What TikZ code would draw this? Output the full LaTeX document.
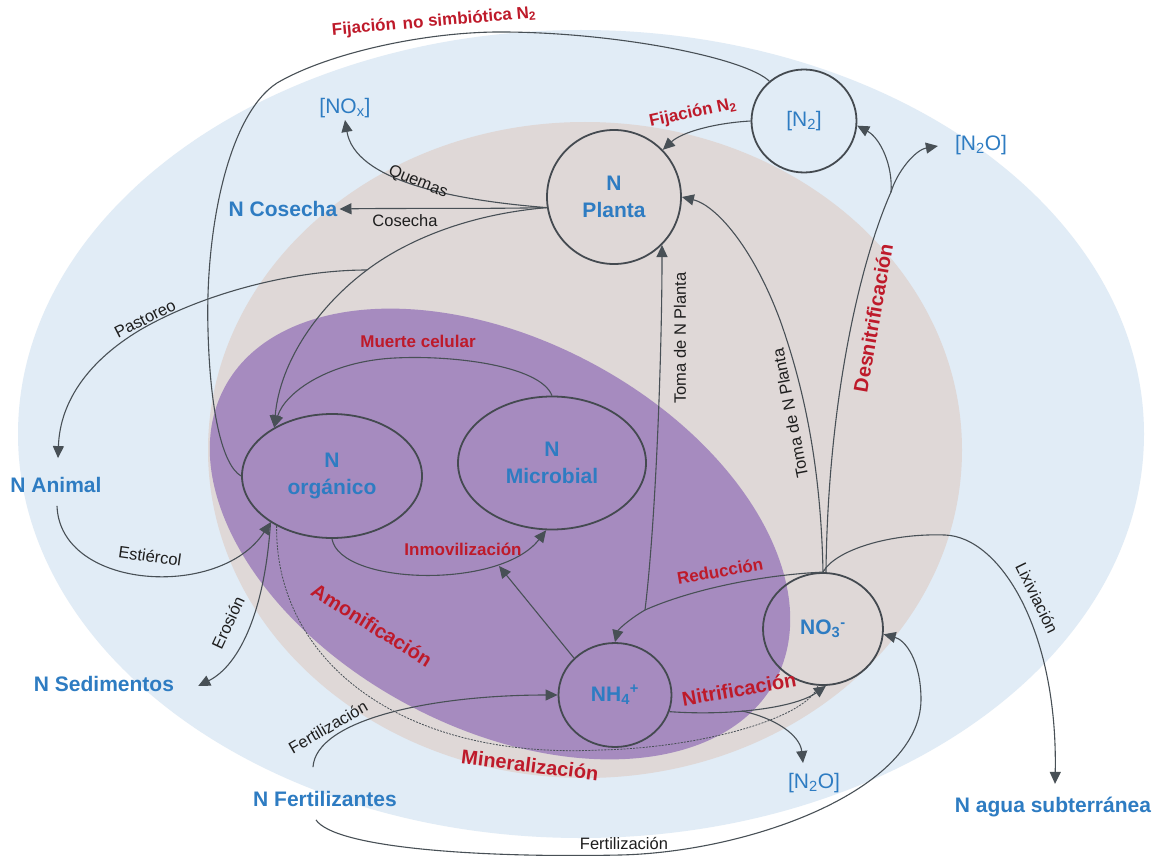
\documentclass[tikz,border=0pt]{standalone}
\usepackage{fontspec}
\setmainfont{Liberation Sans}
\usetikzlibrary{arrows.meta,shapes.geometric,calc}
\definecolor{bgblue}{RGB}{225,236,246}
\definecolor{bgbeige}{RGB}{223,216,215}
\definecolor{bgpurple}{RGB}{166,139,191}
\definecolor{nblue}{RGB}{46,124,194}
\definecolor{lred}{RGB}{190,26,42}
\definecolor{lnc}{RGB}{72,80,86}
\definecolor{circc}{RGB}{68,74,80}
\definecolor{ltxt}{RGB}{30,30,30}
\begin{document}
\begin{tikzpicture}[x=1pt,y=-1pt,
  pool/.style={ellipse, draw=circc, line width=1.8pt, inner sep=0pt, align=center,
     text=nblue, font=\fontsize{21}{27}\selectfont\bfseries},
  poolr/.style={pool, font=\fontsize{21}{27}\selectfont},
  place/.style={inner sep=2pt, text=nblue, font=\fontsize{21}{25}\selectfont\bfseries},
  placer/.style={place, font=\fontsize{21}{25}\selectfont},
  rlab/.style={inner sep=1pt, text=lred, font=\fontsize{17}{20}\selectfont\bfseries},
  rbig/.style={inner sep=1pt, text=lred, font=\fontsize{20}{23}\selectfont\bfseries},
  blab/.style={inner sep=1pt, text=ltxt, font=\fontsize{16.5}{19}\selectfont},
  conn/.style={draw=lnc, line width=1.1pt},
  arr/.style={conn, -{Triangle[length=12pt,width=11pt]}},
  mindash/.style={draw=lnc, line width=0.8pt, dash pattern=on 2pt off 1.2pt}]
\useasboundingbox (0,0) rectangle (1165,856);
\fill[white] (0,0) rectangle (1165,856);
% backgrounds
\fill[bgblue] (581,434) ellipse [x radius=563pt, y radius=404pt];
\fill[bgbeige] (585,450) ellipse [x radius=377pt, y radius=328pt];
\fill[bgpurple, rotate around={-28:(500,534)}] (500,534) ellipse [x radius=312pt, y radius=194pt];

% pools
\node[pool, minimum width=134pt, minimum height=134pt] (nplanta) at (614,197) {N\\Planta};
\node[poolr, minimum width=105pt, minimum height=103pt] (n2) at (804,121) {[N\textsubscript{2}]};
\node[pool, minimum width=180pt, minimum height=124pt] (norg) at (332,476) {N\\orgánico};
\node[pool, minimum width=188pt, minimum height=133pt] (nmic) at (552,463) {N\\Microbial};
\node[pool, minimum width=113pt, minimum height=104pt] (nh4) at (615,695) {NH\textsubscript{4}\textsuperscript{+}};
\node[pool, minimum width=120pt, minimum height=112pt] (no3) at (823,629) {NO\textsubscript{3}\textsuperscript{-}};

% places
\node[placer] (nox) at (345,108) {[NO\textsubscript{x}]};
\node[placer] (n2otop) at (981,145) {[N\textsubscript{2}O]};
\node[place] (ncos) at (283,209) {N Cosecha};
\node[place] (nanim) at (56,485) {N Animal};
\node[place] (nsed) at (104,684) {N Sedimentos};
\node[place] (nfert) at (325,799) {N Fertilizantes};
\node[placer] (n2obot) at (814,783) {[N\textsubscript{2}O]};
\node[place] (nagua) at (1053,807) {N agua subterránea};

% branch points
\coordinate (pb) at (367,270);
\coordinate (tb) at (645,610);
\coordinate (dn) at (891,192);
\coordinate (nb) at (742,711);
\coordinate (im) at (499,566);

% connectors
\draw[conn] (n2.131) .. controls (745,58) and (620,33) .. (506,32)
  .. controls (430,31) and (330,52) .. (277,83)
  .. controls (228,115) and (205,230) .. (208,330)
  .. controls (210,410) and (222,465) .. (norg.west);
\draw[arr] (n2.west) .. controls (715,123) and (682,132) .. (nplanta.44);
\draw[arr] (nplanta.189) .. controls (450,200) and (355,180) .. (nox.south);
\draw[arr] (nplanta.189) .. controls (480,209) and (400,208) .. (ncos.east);
\draw[arr] (nplanta.189) .. controls (460,215) and (400,245) .. (pb)
  .. controls (320,305) and (280,360) .. (norg.140);
\draw[arr] (pb) .. controls (290,270) and (200,295) .. (140,330)
  .. controls (90,360) and (60,400) .. ($(nanim.north)+(2,-17)$);
\draw[arr] ($(nanim.south)+(1,11)$) .. controls (60,590) and (220,600) .. (norg.217);
\draw[arr] (norg.217) .. controls (265,610) and (240,665) .. ($(nsed.east)+(22,2)$);
\draw[arr] (nmic.north) .. controls (540,365) and (450,355) .. (395,358)
  .. controls (330,361) and (285,392) .. (norg.140);
\draw[arr] (norg.south) .. controls (340,585) and (500,590) .. (nmic.265);
\draw[arr] (nh4.138) -- (im);
\draw[arr] (no3.north) .. controls (760,575) and (690,590) .. (tb)
  .. controls (628,620) and (618,630) .. (nh4.north);
\draw[arr] (tb) .. controls (656,520) and (662,350) .. (nplanta.-45);
\draw[arr] (no3.north) .. controls (821,470) and (805,390) .. (780,320)
  .. controls (752,245) and (715,205) .. (nplanta.east);
\draw[conn] (no3.87) .. controls (828,400) and (860,262) .. (dn);
\draw[arr] (dn) .. controls (893,165) and (880,138) .. (n2.-5);
\draw[arr] (dn) .. controls (897,172) and (915,150) .. ($(n2otop.west)+(-15,1)$);
\draw[arr] (no3.north) .. controls (835,550) and (890,533) .. (945,535)
  .. controls (1000,537) and (1058,630) .. ($(nagua.north)+(2,-11)$);
\draw[mindash] (norg.222) .. controls (275,660) and (400,760) .. (600,750)
  .. controls (700,748) and (808,718) .. (no3.-95);
\draw[arr] (nh4.-17) .. controls (730,716) and (795,708) .. (no3.-87);
\draw[arr] (nb) .. controls (775,718) and (800,735) .. ($(n2obot.north)+(-11,-8)$);
\draw[arr] ($(nfert.north)+(-12,-22)$) .. controls (316,720) and (430,695) .. (nh4.west);
\draw[arr] ($(nfert.south)+(-9,11)$) .. controls (335,848) and (480,858) .. (620,855)
  .. controls (750,852) and (920,790) .. (921,700)
  .. controls (921,660) and (905,640) .. (no3.-5);

% labels
\node[rlab, rotate=5] (l1) at (434,22) {Fijación\hspace{.4em}no simbiótica N\textsubscript{2}};
\node[rlab, rotate=12] (l2) at (693,113) {Fijación N\textsubscript{2}};
\node[blab, rotate=-22] (l3) at (418,182) {Quemas};
\node[blab] (l4) at (405,221) {Cosecha};
\node[blab, rotate=27] (l5) at (145,319) {Pastoreo};
\node[blab, rotate=-8] (l6) at (150,556) {Estiércol};
\node[blab, rotate=65] (l7) at (228,623) {Erosión};
\node[rlab] (l8) at (418,341) {Muerte celular};
\node[rlab] (l9) at (463,549) {Inmovilización};
\node[rbig, rotate=-32] (l10) at (372,625) {Amonificación};
\node[rlab, rotate=10] (l11) at (720,571) {Reducción};
\node[rbig, rotate=10] (l12) at (739,689) {Nitrificación};
\node[rbig, rotate=-7] (l13) at (530,765) {Mineralización};
\node[blab, rotate=90] (l14) at (680,338) {Toma de N Planta};
\node[blab, rotate=101] (l15) at (790,413) {Toma de N Planta};
\node[rbig, rotate=80] (l16) at (873,318) {Desnitrificación};
\node[blab, rotate=-64] (l17) at (1037,598) {Lixiviación};
\node[blab, rotate=30] (l18) at (328,727) {Fertilización};
\node[blab] (l19) at (624,843) {Fertilización};
\end{tikzpicture}
\end{document}
